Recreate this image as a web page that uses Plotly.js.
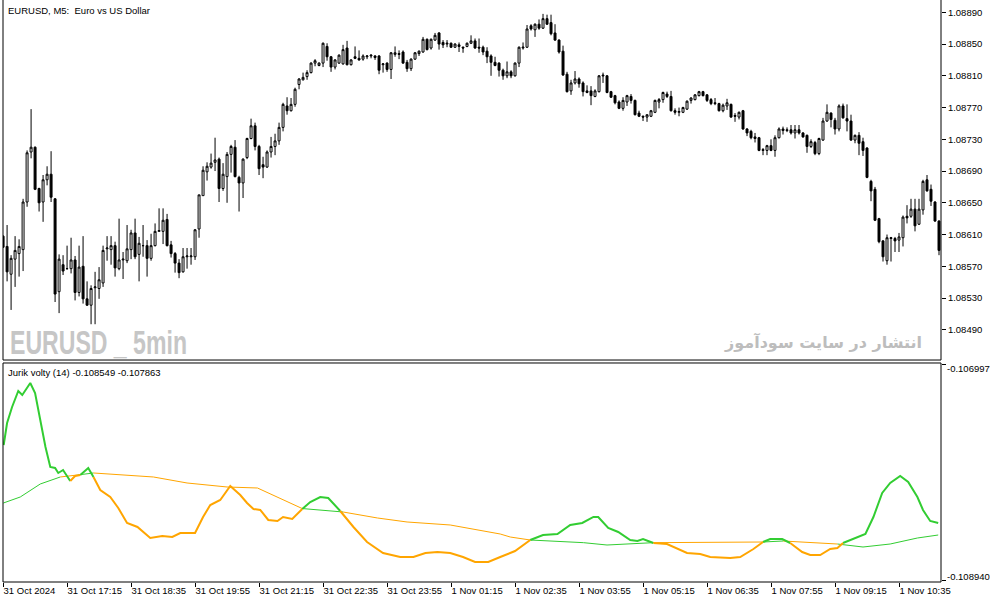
<!DOCTYPE html>
<html>
<head>
<meta charset="utf-8">
<script src="https://cdn.plot.ly/plotly-3.0.1.min.js"></script>
<style>
  html, body { margin: 0; padding: 0; background: #fff; }
  #chart { width: 994px; height: 603px; }
</style>
</head>
<body>
<div id="chart"></div>
<script>
// ---- EURUSD M5 candles (one per 5-minute bar, left to right) ----
const opens = [
1.08608,1.08595,1.08560,1.08579,1.08586,1.08591,1.08651,1.08714,1.08720,1.08668,
1.08651,1.08679,1.08686,1.08655,1.08538,1.08572,1.08567,1.08567,1.08578,1.08537,
1.08570,1.08529,1.08521,1.08543,1.08542,1.08549,1.08592,1.08591,1.08596,1.08567,
1.08578,1.08577,1.08591,1.08612,1.08585,1.08596,1.08596,1.08580,1.08596,1.08614,
1.08614,1.08629,1.08597,1.08586,1.08574,1.08563,1.08582,1.08582,1.08582,1.08617,
1.08659,1.08689,1.08695,1.08701,1.08705,1.08668,1.08683,1.08711,1.08720,1.08682,
1.08675,1.08707,1.08731,1.08747,1.08721,1.08698,1.08695,1.08714,1.08721,1.08728,
1.08745,1.08772,1.08766,1.08774,1.08799,1.08805,1.08809,1.08814,1.08826,1.08823,
1.08826,1.08847,1.08834,1.08821,1.08826,1.08825,1.08845,1.08824,1.08834,1.08832,
1.08831,1.08834,1.08835,1.08835,1.08835,1.08824,1.08826,1.08818,1.08837,1.08838,
1.08840,1.08827,1.08819,1.08831,1.08838,1.08840,1.08856,1.08845,1.08855,1.08864,
1.08852,1.08850,1.08851,1.08846,1.08849,1.08846,1.08847,1.08851,1.08854,1.08846,
1.08846,1.08841,1.08835,1.08827,1.08826,1.08817,1.08810,1.08815,1.08810,1.08826,
1.08845,1.08846,1.08873,1.08868,1.08875,1.08870,1.08882,1.08877,1.08864,1.08855,
1.08841,1.08812,1.08791,1.08801,1.08806,1.08801,1.08791,1.08791,1.08784,1.08790,
1.08811,1.08810,1.08790,1.08785,1.08777,1.08769,1.08777,1.08784,1.08779,1.08763,
1.08759,1.08758,1.08759,1.08764,1.08777,1.08780,1.08787,1.08784,1.08766,1.08764,
1.08764,1.08768,1.08779,1.08780,1.08785,1.08790,1.08786,1.08780,1.08776,1.08775,
1.08766,1.08772,1.08774,1.08760,1.08758,1.08766,1.08743,1.08740,1.08733,1.08732,
1.08717,1.08716,1.08722,1.08716,1.08732,1.08743,1.08742,1.08742,1.08738,1.08742,
1.08738,1.08735,1.08721,1.08726,1.08712,1.08729,1.08753,1.08763,1.08754,1.08743,
1.08772,1.08756,1.08753,1.08729,1.08735,1.08727,1.08719,1.08677,1.08667,1.08630,
1.08602,1.08577,1.08605,1.08605,1.08603,1.08606,1.08633,1.08633,1.08642,1.08623,
1.08641,1.08679,1.08667,1.08651,1.08627];
const highs = [
1.08609,1.08622,1.08584,1.08608,1.08604,1.08655,1.08716,1.08768,1.08721,1.08669,
1.08685,1.08696,1.08715,1.08656,1.08585,1.08584,1.08596,1.08606,1.08583,1.08596,
1.08608,1.08551,1.08546,1.08563,1.08569,1.08596,1.08608,1.08608,1.08601,1.08630,
1.08588,1.08622,1.08616,1.08630,1.08607,1.08622,1.08603,1.08611,1.08624,1.08643,
1.08643,1.08636,1.08602,1.08588,1.08579,1.08593,1.08593,1.08593,1.08617,1.08660,
1.08696,1.08701,1.08712,1.08732,1.08707,1.08700,1.08714,1.08723,1.08729,1.08684,
1.08706,1.08732,1.08756,1.08751,1.08723,1.08708,1.08716,1.08733,1.08737,1.08751,
1.08776,1.08783,1.08782,1.08795,1.08807,1.08814,1.08817,1.08827,1.08831,1.08827,
1.08852,1.08851,1.08835,1.08831,1.08837,1.08849,1.08854,1.08831,1.08847,1.08842,
1.08837,1.08836,1.08837,1.08836,1.08836,1.08826,1.08827,1.08840,1.08847,1.08842,
1.08842,1.08830,1.08832,1.08840,1.08842,1.08859,1.08857,1.08857,1.08864,1.08865,
1.08855,1.08855,1.08852,1.08851,1.08852,1.08847,1.08852,1.08861,1.08857,1.08857,
1.08848,1.08846,1.08837,1.08834,1.08827,1.08819,1.08828,1.08817,1.08827,1.08847,
1.08852,1.08874,1.08875,1.08876,1.08881,1.08888,1.08887,1.08887,1.08875,1.08856,
1.08848,1.08815,1.08805,1.08816,1.08808,1.08803,1.08798,1.08797,1.08793,1.08811,
1.08814,1.08811,1.08791,1.08786,1.08779,1.08783,1.08786,1.08787,1.08780,1.08766,
1.08760,1.08761,1.08767,1.08780,1.08782,1.08790,1.08790,1.08791,1.08769,1.08770,
1.08771,1.08779,1.08783,1.08787,1.08791,1.08791,1.08787,1.08782,1.08782,1.08776,
1.08775,1.08781,1.08775,1.08763,1.08765,1.08767,1.08744,1.08742,1.08738,1.08733,
1.08719,1.08723,1.08730,1.08735,1.08745,1.08746,1.08745,1.08748,1.08748,1.08748,
1.08739,1.08736,1.08730,1.08728,1.08732,1.08757,1.08774,1.08764,1.08757,1.08774,
1.08775,1.08774,1.08761,1.08736,1.08739,1.08732,1.08720,1.08679,1.08670,1.08631,
1.08603,1.08610,1.08607,1.08607,1.08612,1.08634,1.08647,1.08655,1.08655,1.08655,
1.08679,1.08685,1.08673,1.08652,1.08628];
const lows = [
1.08593,1.08551,1.08515,1.08544,1.08557,1.08564,1.08645,1.08706,1.08666,1.08639,
1.08626,1.08672,1.08651,1.08525,1.08511,1.08559,1.08566,1.08561,1.08527,1.08532,
1.08523,1.08520,1.08497,1.08497,1.08529,1.08544,1.08577,1.08572,1.08557,1.08565,
1.08554,1.08574,1.08579,1.08579,1.08551,1.08582,1.08557,1.08577,1.08595,1.08614,
1.08598,1.08595,1.08581,1.08562,1.08555,1.08562,1.08567,1.08572,1.08578,1.08606,
1.08659,1.08678,1.08693,1.08690,1.08651,1.08665,1.08650,1.08688,1.08682,1.08639,
1.08656,1.08705,1.08730,1.08716,1.08685,1.08681,1.08694,1.08707,1.08710,1.08723,
1.08740,1.08761,1.08765,1.08771,1.08793,1.08804,1.08805,1.08813,1.08822,1.08822,
1.08821,1.08829,1.08815,1.08818,1.08825,1.08824,1.08823,1.08823,1.08831,1.08829,
1.08829,1.08831,1.08832,1.08830,1.08812,1.08814,1.08815,1.08806,1.08834,1.08831,
1.08825,1.08815,1.08816,1.08830,1.08835,1.08839,1.08842,1.08843,1.08854,1.08843,
1.08845,1.08846,1.08845,1.08845,1.08840,1.08839,1.08846,1.08850,1.08844,1.08839,
1.08836,1.08826,1.08810,1.08822,1.08809,1.08805,1.08807,1.08807,1.08809,1.08821,
1.08843,1.08845,1.08867,1.08859,1.08868,1.08869,1.08874,1.08861,1.08854,1.08838,
1.08810,1.08789,1.08786,1.08799,1.08795,1.08784,1.08788,1.08773,1.08783,1.08789,
1.08801,1.08788,1.08782,1.08774,1.08768,1.08766,1.08772,1.08775,1.08760,1.08758,
1.08753,1.08752,1.08758,1.08763,1.08769,1.08776,1.08782,1.08765,1.08761,1.08759,
1.08763,1.08767,1.08775,1.08779,1.08784,1.08784,1.08777,1.08773,1.08773,1.08765,
1.08764,1.08767,1.08757,1.08752,1.08755,1.08742,1.08734,1.08730,1.08726,1.08715,
1.08710,1.08710,1.08715,1.08708,1.08731,1.08736,1.08739,1.08736,1.08731,1.08736,
1.08732,1.08713,1.08719,1.08710,1.08710,1.08728,1.08752,1.08745,1.08736,1.08740,
1.08756,1.08740,1.08728,1.08725,1.08710,1.08709,1.08681,1.08652,1.08627,1.08599,
1.08576,1.08572,1.08576,1.08588,1.08588,1.08595,1.08624,1.08631,1.08614,1.08622,
1.08635,1.08664,1.08646,1.08626,1.08584];
const closes = [
1.08594,1.08563,1.08580,1.08590,1.08595,1.08651,1.08713,1.08720,1.08667,1.08650,
1.08679,1.08686,1.08657,1.08535,1.08579,1.08564,1.08567,1.08578,1.08537,1.08569,
1.08529,1.08521,1.08542,1.08544,1.08553,1.08590,1.08593,1.08596,1.08568,1.08578,
1.08579,1.08592,1.08612,1.08582,1.08599,1.08596,1.08580,1.08596,1.08614,1.08615,
1.08628,1.08596,1.08586,1.08574,1.08562,1.08582,1.08583,1.08583,1.08616,1.08660,
1.08691,1.08696,1.08700,1.08704,1.08668,1.08686,1.08711,1.08721,1.08683,1.08675,
1.08705,1.08731,1.08747,1.08721,1.08693,1.08695,1.08714,1.08721,1.08728,1.08745,
1.08774,1.08766,1.08774,1.08793,1.08806,1.08808,1.08814,1.08826,1.08829,1.08826,
1.08851,1.08834,1.08821,1.08830,1.08836,1.08843,1.08824,1.08830,1.08832,1.08830,
1.08835,1.08835,1.08836,1.08833,1.08817,1.08825,1.08818,1.08839,1.08839,1.08837,
1.08826,1.08819,1.08831,1.08839,1.08841,1.08856,1.08843,1.08856,1.08861,1.08850,
1.08849,1.08851,1.08846,1.08850,1.08847,1.08845,1.08851,1.08854,1.08845,1.08845,
1.08840,1.08834,1.08827,1.08823,1.08817,1.08810,1.08815,1.08810,1.08826,1.08846,
1.08846,1.08869,1.08869,1.08875,1.08870,1.08882,1.08875,1.08863,1.08855,1.08840,
1.08811,1.08790,1.08801,1.08806,1.08800,1.08790,1.08789,1.08785,1.08791,1.08810,
1.08810,1.08789,1.08783,1.08776,1.08769,1.08779,1.08785,1.08779,1.08761,1.08759,
1.08758,1.08761,1.08766,1.08779,1.08780,1.08789,1.08784,1.08766,1.08764,1.08765,
1.08770,1.08778,1.08782,1.08786,1.08790,1.08785,1.08779,1.08775,1.08775,1.08766,
1.08773,1.08776,1.08758,1.08759,1.08764,1.08743,1.08738,1.08732,1.08731,1.08716,
1.08716,1.08722,1.08716,1.08732,1.08743,1.08741,1.08741,1.08738,1.08742,1.08738,
1.08733,1.08721,1.08727,1.08712,1.08731,1.08753,1.08764,1.08755,1.08743,1.08772,
1.08757,1.08753,1.08729,1.08735,1.08725,1.08716,1.08682,1.08665,1.08628,1.08601,
1.08582,1.08606,1.08606,1.08602,1.08607,1.08632,1.08631,1.08642,1.08621,1.08642,
1.08677,1.08665,1.08652,1.08627,1.08590];

// ---- time axis ----
const timeTickBar = [0,16,32,48,64,80,96,112,128,144,160,176,192,208,224];
const timeTickLabels = ['31 Oct 2024','31 Oct 17:15','31 Oct 18:35','31 Oct 19:55','31 Oct 21:15',
  '31 Oct 22:35','31 Oct 23:55','1 Nov 01:15','1 Nov 02:35','1 Nov 03:55','1 Nov 05:15',
  '1 Nov 06:35','1 Nov 07:55','1 Nov 09:15','1 Nov 10:35'];

// ---- price axis ----
const priceTicks = [1.08490,1.08530,1.08570,1.08610,1.08650,1.08690,1.08730,1.08770,1.08810,1.08850,1.08890];

// ---- Jurik volty (14): main line (bar position, value) ----
const voltyBar = [0.15,1,2.25,3.8,4.8,6.8,8,9.3,10.6,11.8,13,13.8,15,16.8,18,19.3,21.3,22.6,24.3,26.8,
  28.8,31,33.6,36.8,39.8,42.3,44.3,48,50,51.8,54.3,56.8,59.3,61,62.6,64.3,66.3,68.6,70,72.3,
  74.8,76.8,79.3,81.3,84.3,87.6,91,95,99.3,102.6,105.6,108.6,111.8,115,118,121.3,124.3,128,131.8,135,
  138.6,141.8,144.8,147.6,148.8,151.3,153.8,156.8,158.6,160,162.6,166,171,174.3,176.8,181.8,184.3,187.6,190,191.8,
  194.8,196.8,199.8,201.8,204.3,206.8,208.6,210,212.6,215.6,217.6,219.8,221.8,224.3,226.3,228.6,230,231.8,233.8];
const voltyVal = [-0.107717,-0.107519,-0.107375,-0.107231,-0.107267,-0.107159,-0.107249,-0.107492,-0.107735,-0.107915,
  -0.107924,-0.107969,-0.107942,-0.108041,-0.107996,-0.107987,-0.107924,-0.108005,-0.108122,-0.108185,
  -0.108284,-0.108419,-0.108455,-0.108554,-0.108536,-0.108545,-0.108509,-0.108509,-0.108365,-0.108257,
  -0.108212,-0.108086,-0.108167,-0.108239,-0.108293,-0.108302,-0.108392,-0.108401,-0.108365,-0.108383,
  -0.108293,-0.108230,-0.108185,-0.108194,-0.108311,-0.108455,-0.108590,-0.108689,-0.108725,-0.108725,
  -0.108689,-0.108680,-0.108689,-0.108725,-0.108770,-0.108770,-0.108725,-0.108671,-0.108572,-0.108527,
  -0.108518,-0.108437,-0.108419,-0.108365,-0.108365,-0.108464,-0.108500,-0.108572,-0.108581,-0.108563,
  -0.108599,-0.108608,-0.108689,-0.108698,-0.108725,-0.108734,-0.108725,-0.108653,-0.108590,-0.108563,
  -0.108563,-0.108599,-0.108680,-0.108707,-0.108707,-0.108653,-0.108644,-0.108599,-0.108563,-0.108518,
  -0.108365,-0.108149,-0.108059,-0.107996,-0.108050,-0.108185,-0.108302,-0.108401,-0.108419];

// ---- Jurik volty (14): signal line (bar position, value) ----
const signalBar = [0.08,4.3,9.3,14.3,18.6,22.6,29.3,37.6,46,56,63.6,68.6,74.8,85,93.6,101,111.8,124.3,126.8,131.8,
  138.6,145.1,151,162.6,186.8,190,195,200,208.6,215,221.8,228.6,233.8];
const signalVal = [-0.108239,-0.108185,-0.108068,-0.108005,-0.107987,-0.107969,-0.107987,-0.108005,-0.108059,-0.108095,
  -0.108104,-0.108185,-0.108289,-0.108320,-0.108374,-0.108410,-0.108437,-0.108518,-0.108545,-0.108572,
  -0.108581,-0.108596,-0.108617,-0.108596,-0.108596,-0.108590,-0.108581,-0.108590,-0.108608,-0.108635,
  -0.108608,-0.108554,-0.108527];
const indicatorTicks = [-0.106997, -0.108940];

const GREEN = '#32CD32', ORANGE = '#FFA500';

function valueAt(xs, ys, x) {
  if (x <= xs[0]) return ys[0];
  for (let k = 0; k < xs.length - 1; k++) {
    if (x <= xs[k + 1]) {
      const t = (x - xs[k]) / (xs[k + 1] - xs[k]);
      return ys[k] + t * (ys[k + 1] - ys[k]);
    }
  }
  return ys[ys.length - 1];
}

// split a line into green / orange runs depending on whether main line is above the signal
function splitByState(xs, ys, isGreen) {
  const g = {x: [], y: []}, o = {x: [], y: []};
  let prev = null;
  for (let k = 0; k < xs.length - 1; k++) {
    const mx = (xs[k] + xs[k + 1]) / 2, my = (ys[k] + ys[k + 1]) / 2;
    const t = isGreen(mx, my) ? g : o;
    if (prev !== t) {
      if (t.x.length) { t.x.push(null); t.y.push(null); }
      t.x.push(xs[k]); t.y.push(ys[k]);
    }
    t.x.push(xs[k + 1]); t.y.push(ys[k + 1]);
    prev = t;
  }
  return {g, o};
}

const mainSplit = splitByState(voltyBar, voltyVal, (x, v) => v > valueAt(signalBar, signalVal, x));
const sigSplit = splitByState(signalBar, signalVal, (x, v) => valueAt(voltyBar, voltyVal, x) > v);

const barIndex = opens.map((_, i) => i);

const traces = [
  {
    type: 'candlestick', x: barIndex, open: opens, high: highs, low: lows, close: closes,
    xaxis: 'x', yaxis: 'y',
    increasing: {line: {color: '#000', width: 1}, fillcolor: '#ffffff'},
    decreasing: {line: {color: '#000', width: 1}, fillcolor: '#000000'},
    whiskerwidth: 0, hoverinfo: 'skip', showlegend: false
  },
  {type: 'scatter', mode: 'lines', x: sigSplit.g.x, y: sigSplit.g.y, xaxis: 'x', yaxis: 'y2',
   line: {color: GREEN, width: 1}, connectgaps: false, hoverinfo: 'skip'},
  {type: 'scatter', mode: 'lines', x: sigSplit.o.x, y: sigSplit.o.y, xaxis: 'x', yaxis: 'y2',
   line: {color: ORANGE, width: 1}, connectgaps: false, hoverinfo: 'skip'},
  {type: 'scatter', mode: 'lines', x: mainSplit.g.x, y: mainSplit.g.y, xaxis: 'x', yaxis: 'y2',
   line: {color: GREEN, width: 2}, connectgaps: false, hoverinfo: 'skip'},
  {type: 'scatter', mode: 'lines', x: mainSplit.o.x, y: mainSplit.o.y, xaxis: 'x', yaxis: 'y2',
   line: {color: ORANGE, width: 2}, connectgaps: false, hoverinfo: 'skip'}
];

const TOP_BOTTOM = 0.3814, BOT_TOP = 0.3763;
const lineStyle = {color: '#000', width: 1};
const axisFont = {family: 'Liberation Sans, Arial, sans-serif', size: 9.5, color: '#000'};
const WATERMARK = 'EURUSD _ 5min';

const layout = {
  width: 994, height: 603,
  margin: {l: 3, r: 53, t: 0, b: 21, pad: 0},
  paper_bgcolor: '#fff', plot_bgcolor: '#fff',
  showlegend: false,
  font: axisFont,
  xaxis: {
    domain: [0, 1], anchor: 'y2', range: [-0.02, 234.5],
    tickmode: 'array', tickvals: timeTickBar, ticktext: timeTickLabels,
    ticks: 'outside', ticklen: 4, tickcolor: '#000', tickwidth: 1,
    ticklabelposition: 'outside right',
    showgrid: false, zeroline: false, showline: false,
    rangeslider: {visible: false}, tickfont: axisFont
  },
  yaxis: {
    domain: [TOP_BOTTOM, 1], anchor: 'x', side: 'right',
    range: [1.084519, 1.089055],
    tickmode: 'array', tickvals: priceTicks, tickformat: '.5f',
    ticks: 'outside', ticklen: 4, tickcolor: '#000',
    showgrid: false, zeroline: false, showline: false, tickfont: axisFont
  },
  yaxis2: {
    domain: [0, BOT_TOP], anchor: 'x', side: 'right',
    range: [-0.108950, -0.106979],
    tickmode: 'array', tickvals: indicatorTicks, ticktext: ['', ''],
    ticks: 'outside', ticklen: 4, tickcolor: '#000',
    showgrid: false, zeroline: false, showline: false
  },
  shapes: [
    {type: 'line', xref: 'paper', yref: 'paper', x0: 0, x1: 0, y0: TOP_BOTTOM, y1: 1, line: lineStyle},
    {type: 'line', xref: 'paper', yref: 'paper', x0: 0, x1: 1, y0: TOP_BOTTOM, y1: TOP_BOTTOM, line: lineStyle},
    {type: 'line', xref: 'paper', yref: 'paper', x0: 1, x1: 1, y0: TOP_BOTTOM, y1: 1, line: lineStyle},
    {type: 'rect', xref: 'paper', yref: 'paper', x0: 0, x1: 1, y0: 0, y1: BOT_TOP, line: lineStyle, fillcolor: 'rgba(0,0,0,0)'}
  ],
  annotations: [
    {xref: 'paper', yref: 'paper', x: 0.0032, y: 0.9828, xanchor: 'left', yanchor: 'middle', showarrow: false,
     text: 'EURUSD, M5:\u00a0 Euro vs US Dollar', font: axisFont},
    {xref: 'paper', yref: 'paper', x: 0.0032, y: 0.3608, xanchor: 'left', yanchor: 'middle', showarrow: false,
     text: 'Jurik volty (14) -0.108549 -0.107863', font: axisFont},
    {xref: 'paper', yref: 'paper', x: 0.0053, y: 0.4107, xanchor: 'left', yanchor: 'middle', showarrow: false,
     text: '<b>' + WATERMARK + '</b>',
     font: {family: 'Liberation Sans, Arial, sans-serif', size: 33, color: '#C6C6C6'}},
    {xref: 'paper', yref: 'paper', x: 0.9819, y: 0.4124, xanchor: 'right', yanchor: 'middle', showarrow: false,
     text: '<b>انتشار در سایت سودآموز</b>',
     font: {family: 'DejaVu Sans, Noto Sans, sans-serif', size: 16, color: '#BDBDBD'}},
    {xref: 'paper', yref: 'paper', x: 1.0043, y: 0.366, xanchor: 'left', yanchor: 'middle', showarrow: false,
     text: '-0.106997', font: axisFont},
    {xref: 'paper', yref: 'paper', x: 1.0043, y: 0.0086, xanchor: 'left', yanchor: 'middle', showarrow: false,
     text: '-0.108940', font: axisFont}
  ]
};

Plotly.newPlot('chart', traces, layout, {staticPlot: true, displayModeBar: false}).then(function (gd) {
  // condense the watermark horizontally (the original uses a narrow bold face)
  const targetWidth = 177;
  gd.querySelectorAll('text.annotation-text').forEach(function (t) {
    if (t.textContent.trim() === WATERMARK) {
      const bb = t.getBBox();
      const s = targetWidth / bb.width;
      t.setAttribute('transform',
        'translate(' + bb.x + ',0) scale(' + s + ',1) translate(' + (-bb.x) + ',0)');
    }
  });
});
</script>
</body>
</html>
